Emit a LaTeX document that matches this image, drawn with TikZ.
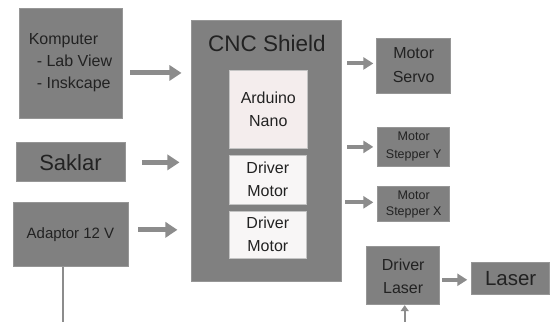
\documentclass[tikz,border=0pt]{standalone}
\usepackage{fontspec}
\setmainfont{Liberation Sans}
\newfontfamily\lbf[Color=222222]{Liberation Sans}
\usetikzlibrary{arrows.meta,calc}
\definecolor{boxgray}{HTML}{808080}
\definecolor{boxedge}{HTML}{969696}
\definecolor{iedge}{HTML}{C4C4C4}
\definecolor{arrgray}{HTML}{8C8C8C}
\definecolor{txtcol}{HTML}{222222}
\definecolor{pinkish}{HTML}{F4EDED}
\definecolor{whitish}{HTML}{F8F6F6}
\begin{document}
\begin{tikzpicture}[x=1pt,y=-1pt,
  gbox/.style={draw=boxedge,line width=0.8pt,fill=boxgray,inner sep=0pt},
  ibox/.style={draw=iedge,line width=0.6pt,fill=whitish,inner sep=0pt,minimum width=78pt},
  lbl/.style={inner sep=0pt,text=txtcol,align=center},
  blk/.style={line width=5pt,draw=arrgray,-{Triangle[length=12pt,width=15pt]}},
  blks/.style={line width=4pt,draw=arrgray,-{Triangle[length=10pt,width=12pt]}},
  pline/.style={line width=2pt,draw=arrgray},
]
\fill[white] (0,0) rectangle (550,322);

% boxes
\node[gbox,minimum width=103pt,minimum height=110pt] (komp) at (70.5,63) {};
\node[gbox,minimum width=109pt,minimum height=39pt] (saklar) at (70.5,162.5) {};
\node[gbox,minimum width=115pt,minimum height=64pt] (adaptor) at (70.5,235) {};
\node[gbox,minimum width=150pt,minimum height=262pt] (cnc) at (267,151) {};
\node[ibox,fill=pinkish,minimum width=79pt,minimum height=78pt] (ard) at (268.5,109) {};
\node[ibox,minimum height=49pt] (drv1) at (268,179.5) {};
\node[ibox,minimum height=47pt] (drv2) at (268,234.5) {};
\node[gbox,minimum width=74pt,minimum height=55pt] (servo) at (414,65.5) {};
\node[gbox,minimum width=72pt,minimum height=40pt] (stepy) at (414,147) {};
\node[gbox,minimum width=72pt,minimum height=35pt] (stepx) at (414,204.5) {};
\node[gbox,minimum width=73pt,minimum height=58pt] (dlaser) at (403.5,276) {};
\node[gbox,minimum width=78pt,minimum height=32pt] (laser) at (511,279) {};

% input arrows
\draw[blk] ($(komp.east)+(8,10)$) coordinate (a1) -- ($(cnc.west |- a1)+(-10,0)$);
\draw[blk] ($(saklar.east)+(17,0)$) coordinate (a2) -- ($(cnc.west |- a2)+(-12,0)$);
\draw[blk] ($(adaptor.east)+(10,-5)$) coordinate (a3) -- ($(cnc.west |- a3)+(-14,0)$);

% output arrows
\draw[blks] ($(cnc.east |- servo.west)+(5,-2)$) -- ($(servo.west)+(-3,-2)$);
\draw[blks] ($(cnc.east |- stepy.west)+(5,0)$) -- ($(stepy.west)+(-4,0)$);
\draw[blks] ($(cnc.east |- stepx.west)+(3,-2)$) -- ($(stepx.west)+(-4,-2)$);
\draw[blks] ($(dlaser.east)+(2,4)$) -- ($(laser.west)+(-4,1)$);

% power lines
\coordinate (pbot) at (63,322);
\draw[pline] ($(adaptor.south)+(-7.5,0)$) -- (pbot);
\coordinate (lbot) at (405,322);
\draw[pline,-{Triangle[length=6pt,width=8pt]}] (lbot) -- ($(dlaser.south)+(1.5,0)$);

% texts
\node[lbl,align=left,font=\lbf\fontsize{16}{22}\selectfont] (kompt) at (komp)
  {Komputer\\\hspace*{8pt}- Lab View\\\hspace*{8pt}- Inskcape};
\node[lbl,font=\lbf\fontsize{22}{26}\selectfont] (saklart) at (saklar) {Saklar};
\node[lbl,font=\lbf\fontsize{15}{18}\selectfont] (adaptort) at (adaptor) {Adaptor 12 V};
\node[lbl,font=\lbf\fontsize{22.5}{26}\selectfont] (cnctitle) at ($(cnc.north)+(0,24)$) {CNC Shield};
\node[lbl,font=\lbf\fontsize{16}{23}\selectfont] (ardt) at (ard) {Arduino\\Nano};
\node[lbl,font=\lbf\fontsize{16}{23}\selectfont] (drv1t) at (drv1) {Driver\\Motor};
\node[lbl,font=\lbf\fontsize{16}{23}\selectfont] (drv2t) at (drv2) {Driver\\Motor};
\node[lbl,font=\lbf\fontsize{16}{24}\selectfont] (servot) at (servo) {Motor\\Servo};
\node[lbl,font=\lbf\fontsize{12.5}{18}\selectfont] (stepyt) at (stepy) {Motor\\Stepper Y};
\node[lbl,font=\lbf\fontsize{12.5}{16}\selectfont] (stepxt) at (stepx) {Motor\\Stepper X};
\node[lbl,font=\lbf\fontsize{16}{23}\selectfont] (dlasert) at (dlaser) {Driver\\Laser};
\node[lbl,font=\lbf\fontsize{20.5}{24}\selectfont] (lasert) at (laser) {Laser};
\end{tikzpicture}
\end{document}
